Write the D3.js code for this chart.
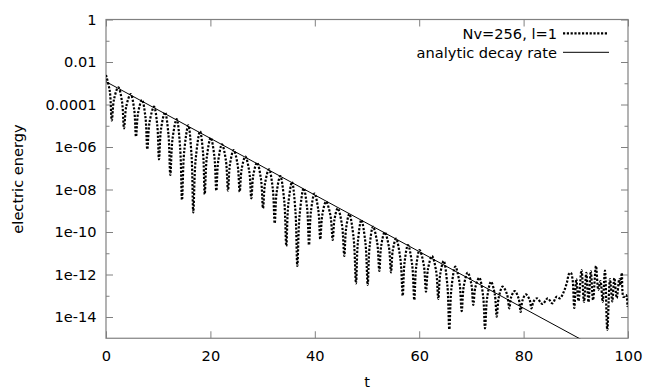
<!DOCTYPE html>
<html><head><meta charset="utf-8">
<script src="https://cdn.jsdelivr.net/npm/d3@7"></script>
<style>body{margin:0;background:#fff} svg{display:block} text{font-family:"DejaVu Sans",sans-serif;fill:#000}</style>
</head><body><svg id="c" width="654" height="392"></svg>
<script>
// Simulation series: Nv=256, l=1
const tData = [0,0.72,1.11,1.55,2.36,3.07,3.45,3.90,4.73,5.39,5.75,6.15,6.90,7.56,7.91,8.36,9.20,9.82,10.15,10.55,11.30,11.96,12.32,12.75,13.54,14.20,14.56,14.98,15.77,16.39,16.72,17.17,18.01,18.60,18.91,19.31,20.06,20.76,21.13,21.51,22.22,22.97,23.37,23.75,24.46,25.21,25.61,25.99,26.69,27.44,27.84,28.22,28.93,29.68,30.08,30.48,31.23,31.94,32.32,32.69,33.39,34.14,34.54,34.92,35.63,36.29,36.65,37.08,37.87,38.53,38.89,39.26,39.94,40.66,41.05,41.44,42.15,42.98,43.43,43.77,44.39,45.21,45.65,45.99,46.61,47.44,47.89,48.25,48.91,49.70,50.13,50.49,51.15,51.94,52.36,52.72,53.39,54.18,54.60,54.94,55.56,56.39,56.84,57.19,57.85,58.64,59.06,59.41,60.06,60.87,61.30,61.70,62.45,63.24,63.66,64.02,64.69,65.39,65.77,66.17,66.92,67.71,68.14,68.54,69.29,69.99,70.36,70.76,71.51,72.23,72.61,73.01,73.75,74.47,74.85,75.25,75.99,76.82,77.26,77.62,78.30,79.04,79.44,79.78,80.42,81.13,81.51,81.88,82.57,83.62,84.62,85.50,86.34,86.97,87.64,88.26,88.70,89.04,89.37,89.71,90.10,90.52,91.09,91.57,92.01,92.43,92.87,93.30,93.87,94.31,94.73,95.15,95.59,96.03,96.55,96.99,97.38,97.84,98.33,98.56,98.81,99.14,99.62,99.90];
const energyData = [2.44e-3,4.36e-4,1.77e-5,1.83e-4,6.44e-4,1.36e-4,7.59e-6,8.49e-5,3.12e-4,6.18e-5,3.05e-6,4.06e-5,1.63e-4,2.51e-5,7.80e-7,1.57e-5,7.87e-5,1.07e-5,2.64e-7,7.23e-6,4.30e-5,3.98e-6,4.81e-8,2.48e-6,2.08e-5,9.64e-7,3.21e-9,6.18e-7,1.05e-5,3.87e-7,8.45e-10,2.54e-7,5.48e-6,5.02e-7,5.94e-9,3.21e-7,2.74e-6,3.67e-7,8.79e-9,2.31e-7,1.34e-6,2.31e-7,8.79e-9,1.55e-7,7.23e-7,1.49e-7,7.87e-9,9.27e-8,3.50e-7,7.23e-8,3.85e-9,4.73e-8,1.82e-7,3.24e-8,1.30e-9,2.03e-8,8.93e-8,1.15e-8,2.56e-10,7.18e-9,4.32e-8,3.03e-9,2.19e-11,1.99e-9,2.25e-8,9.31e-10,2.51e-12,5.97e-10,1.14e-8,1.32e-9,2.44e-11,9.20e-10,6.49e-9,1.14e-9,4.53e-11,6.40e-10,2.67e-9,6.24e-10,4.21e-11,3.92e-10,1.30e-9,2.14e-10,7.43e-12,1.43e-10,7.03e-10,5.08e-11,3.85e-13,3.33e-11,3.67e-10,3.12e-11,3.21e-13,1.95e-11,1.77e-10,3.31e-11,1.46e-12,2.23e-11,9.68e-11,2.12e-11,1.27e-12,1.36e-11,4.84e-11,5.57e-12,1.00e-13,3.57e-12,2.44e-11,3.03e-12,6.31e-14,2.13e-12,1.42e-11,2.92e-12,1.55e-13,1.92e-12,7.43e-12,1.46e-12,7.03e-14,1.02e-12,4.32e-12,3.24e-13,2.64e-15,2.17e-13,2.33e-12,4.34e-13,1.91e-14,2.84e-13,1.22e-12,3.57e-13,3.67e-14,2.51e-13,7.06e-13,1.04e-13,2.94e-15,7.82e-14,4.58e-13,1.22e-13,1.03e-14,8.55e-14,2.67e-13,1.17e-13,2.56e-14,8.69e-14,1.67e-13,7.55e-14,1.72e-14,5.90e-14,1.15e-13,6.78e-14,2.56e-14,5.19e-14,7.59e-14,4.09e-14,7.59e-14,4.42e-14,9.02e-14,7.59e-14,1.42e-13,3.85e-13,1.06e-12,1.22e-12,6.14e-13,2.65e-14,6.14e-13,5.66e-14,1.63e-12,5.08e-14,1.18e-12,5.08e-14,1.46e-12,6.31e-14,2.51e-12,1.87e-13,4.94e-13,5.08e-14,1.54e-12,2.44e-15,6.14e-13,5.36e-14,6.84e-13,7.83e-14,6.14e-13,3.21e-13,1.18e-12,8.73e-14,1.08e-13,2.96e-14];
// Analytic decay rate line endpoints
const tAnalytic = [0, 100];
const energyAnalytic = [1.18e-3, 5.6e-17];
// Axes
const xTicks = [0, 20, 40, 60, 80, 100];
const yTicks = [1, 1e-2, 1e-4, 1e-6, 1e-8, 1e-10, 1e-12, 1e-14];
const yTickLabels = ["1", "0.01", "0.0001", "1e-06", "1e-08", "1e-10", "1e-12", "1e-14"];
const yMinorTicks = [1e-1, 1e-3, 1e-5, 1e-7, 1e-9, 1e-11, 1e-13];
const legendLabels = ["Nv=256, l=1", "analytic decay rate"];
const xLabel = "t", yLabel = "electric energy";

const FS = 14.6;
const svg = d3.select("#c");
const L = 106, R = 628, T = 19.5, B = 338.25;
const x = d3.scaleLinear().domain([0, 100]).range([L, R]);
const y = d3.scaleLog().domain([1e-15, 1]).range([B, T]);
const grey = "#808080";

svg.append("defs").append("clipPath").attr("id", "clip")
  .append("rect").attr("x", L).attr("y", T).attr("width", R - L).attr("height", B - T);

function styleAxis(g) {
  g.select(".domain").remove();
  g.selectAll(".tick line").attr("stroke", grey).attr("stroke-width", 1);
  g.selectAll(".tick text").attr("font-size", FS).attr("fill", "#000");
}
const fmtY = d => yTickLabels[yTicks.indexOf(d)];
svg.append("g").attr("transform", `translate(0,${B})`)
  .call(d3.axisBottom(x).tickValues(xTicks).tickFormat(d3.format("d")).tickSizeInner(-7).tickSizeOuter(0).tickPadding(12))
  .call(styleAxis);
svg.append("g").attr("transform", `translate(0,${T})`)
  .call(d3.axisTop(x).tickValues(xTicks).tickFormat("").tickSizeInner(-7).tickSizeOuter(0))
  .call(styleAxis);
svg.append("g").attr("transform", `translate(${L},0)`)
  .call(d3.axisLeft(y).tickValues(yTicks).tickFormat(fmtY).tickSizeInner(-7).tickSizeOuter(0).tickPadding(9.5))
  .call(styleAxis);
svg.append("g").attr("transform", `translate(${L},0)`)
  .call(d3.axisLeft(y).tickValues(yMinorTicks).tickFormat("").tickSizeInner(-3.5).tickSizeOuter(0))
  .call(styleAxis);
svg.append("g").attr("transform", `translate(${R},0)`)
  .call(d3.axisRight(y).tickValues(yTicks).tickFormat("").tickSizeInner(-7).tickSizeOuter(0))
  .call(styleAxis);
svg.append("g").attr("transform", `translate(${R},0)`)
  .call(d3.axisRight(y).tickValues(yMinorTicks).tickFormat("").tickSizeInner(-3.5).tickSizeOuter(0))
  .call(styleAxis);

svg.append("rect").attr("x", L).attr("y", T).attr("width", R - L).attr("height", B - T)
  .attr("fill", "none").attr("stroke", grey).attr("stroke-width", 1.2);

const plot = svg.append("g").attr("clip-path", "url(#clip)");
const simData = tData.map((t, i) => [t, energyData[i]]);
const anaData = tAnalytic.map((t, i) => [t, energyAnalytic[i]]);

plot.append("path").datum(anaData)
  .attr("d", d3.line().x(d => x(d[0])).y(d => y(d[1])))
  .attr("fill", "none").attr("stroke", "#000").attr("stroke-width", 1);
plot.append("path").datum(simData)
  .attr("d", d3.line().curve(d3.curveCatmullRom.alpha(0.5)).x(d => x(d[0])).y(d => y(d[1])))
  .attr("fill", "none").attr("stroke", "#000").attr("stroke-width", 2.2)
  .attr("stroke-dasharray", "2.2,1.6");

// Legend
const lg = svg.append("g");
const legY = [33.3, 52.3];
lg.selectAll("text").data(legendLabels).join("text")
  .attr("x", 557).attr("y", (d, i) => legY[i]).attr("dy", "0.36em")
  .attr("text-anchor", "end").attr("font-size", FS).text(d => d);
lg.append("line").attr("x1", 563).attr("x2", 607).attr("y1", legY[0]).attr("y2", legY[0])
  .attr("stroke", "#000").attr("stroke-width", 2.2).attr("stroke-dasharray", "2.2,1.6");
lg.append("line").attr("x1", 563).attr("x2", 609).attr("y1", legY[1]).attr("y2", legY[1])
  .attr("stroke", "#000").attr("stroke-width", 1);

// Axis titles
svg.append("text").attr("x", (L + R) / 2).attr("y", 387).attr("text-anchor", "middle")
  .attr("font-size", FS).text(xLabel);
svg.append("text").attr("transform", "translate(23,179) rotate(-90)").attr("text-anchor", "middle")
  .attr("font-size", FS).text(yLabel);
</script></body></html>
